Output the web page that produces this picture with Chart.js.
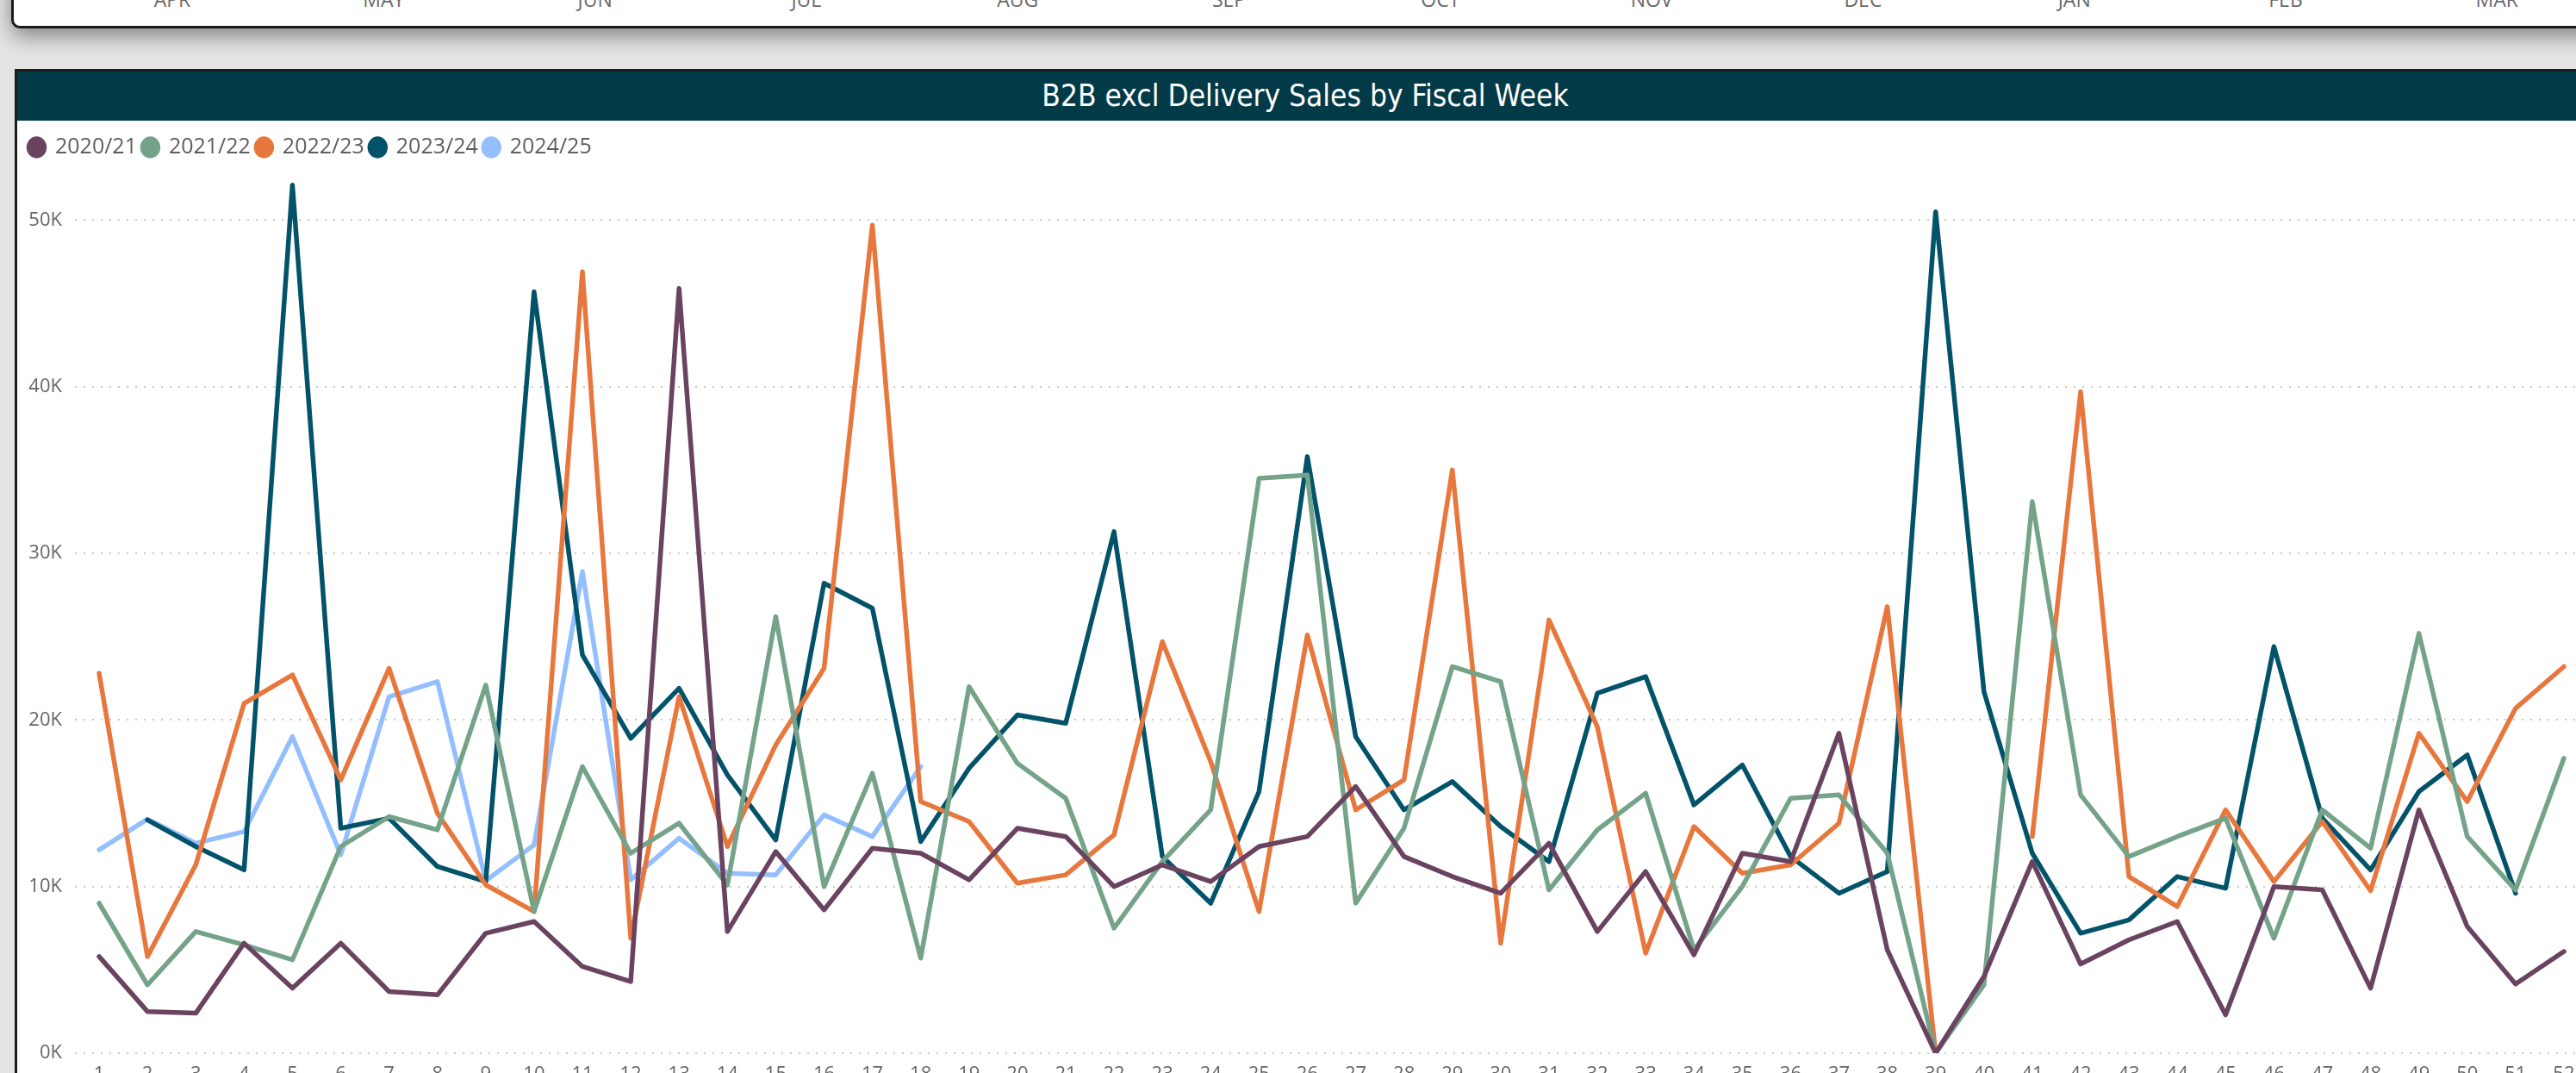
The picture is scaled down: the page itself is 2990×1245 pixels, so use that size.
<!DOCTYPE html>
<html>
<head>
<meta charset="utf-8">
<title>B2B excl Delivery Sales by Fiscal Week</title>
<script src="https://cdn.jsdelivr.net/npm/chart.js@4.4.1/dist/chart.umd.min.js"></script>
<style>
  html, body { margin: 0; padding: 0; }
  body {
    width: 2990px; height: 1245px; overflow: hidden; position: relative;
    background: #e4e4e4; font-family: "Open Sans", sans-serif;
  }
  #topCard {
    position: absolute; left: 13px; top: -30px; width: 3010px; height: 57px;
    background: #fff; border: 3px solid #1b1b1b; border-radius: 0 0 0 10px;
    box-shadow: 0 9px 24px rgba(0, 0, 0, 0.42);
  }
  #months span {
    position: absolute; top: -17px; transform: translateX(-50%);
    font-size: 23px; color: #6a6a6a;
  }
  #card {
    position: absolute; left: 17px; top: 80px; width: 2990px; height: 1200px;
    background: #fff; border-left: 3px solid #1b1b1b; border-top: 3px solid #1b1b1b;
  }
  #cardTitle {
    height: 57px; line-height: 57px; background: #033a47; color: #fff; text-align: center;
    font-family: "Liberation Sans Narrow", "DejaVu Sans Condensed", sans-serif; font-size: 35px;
  }
  #chartBox { position: absolute; left: 19px; top: 140px; width: 2985px; height: 1122px; }
</style>
</head>
<body>
<div id="topCard"></div>
<div id="months"></div>
<div id="card"><div id="cardTitle">B2B excl Delivery Sales by Fiscal Week</div></div>
<div id="chartBox"><canvas id="weekChart"></canvas></div>

<script>
// ======================
// Data
// ======================
const weeks = ["1", "2", "3", "4", "5", "6", "7", "8", "9", "10", "11", "12", "13",
  "14", "15", "16", "17", "18", "19", "20", "21", "22", "23", "24", "25", "26",
  "27", "28", "29", "30", "31", "32", "33", "34", "35", "36", "37", "38", "39",
  "40", "41", "42", "43", "44", "45", "46", "47", "48", "49", "50", "51", "52"];

const seriesNames = ["2020/21", "2021/22", "2022/23", "2023/24", "2024/25"];

const sales2020 = [5800, 2500, 2400, 6600, 3900, 6600, 3700, 3500, 7200, 7900, 5200, 4300, 45900,
  7300, 12100, 8600, 12300, 12000, 10400, 13500, 13000, 10000, 11300, 10300, 12400, 13000,
  16000, 11800, 10600, 9600, 12600, 7300, 10900, 5900, 12000, 11500, 19200, 6200, 0,
  4600, 11500, 5350, 6800, 7900, 2300, 10000, 9800, 3900, 14600, 7600, 4150, 6100];

const sales2021 = [9000, 4100, 7300, 6500, 5600, 12400, 14200, 13400, 22100, 8500, 17200, 12000, 13800,
  10100, 26200, 10000, 16800, 5700, 22000, 17400, 15300, 7500, 11500, 14600, 34500, 34700,
  9000, 13500, 23200, 22300, 9800, 13400, 15600, 6200, 10000, 15300, 15500, 12000, 0,
  4100, 33100, 15500, 11800, 13000, 14100, 6900, 14600, 12300, 25200, 13000, 9800, 17700];

const sales2022 = [22800, 5800, 11300, 21000, 22700, 16400, 23100, 14400, 10100, 8500, 46900, 6900, 21400,
  12400, 18500, 23100, 49700, 15100, 13900, 10200, 10700, 13100, 24700, 17500, 8500, 25100,
  14600, 16400, 35000, 6600, 26000, 19600, 6000, 13600, 10800, 11300, 13800, 26800, 0,
  null, 13000, 39700, 10600, 8800, 14600, 10300, 13900, 9750, 19200, 15100, 20700, 23200];

const sales2023 = [null, 14000, 12400, 11000, 52100, 13500, 14100, 11200, 10300, 45700, 23900, 18900, 21900,
  16700, 12800, 28200, 26700, 12700, 17100, 20300, 19800, 31300, 11800, 9000, 15700, 35800,
  19000, 14600, 16300, 13600, 11500, 21600, 22600, 14900, 17300, 11800, 9600, 10900, 50500,
  21700, 12000, 7200, 8000, 10600, 9900, 24400, 14100, 11000, 15700, 17900, 9600, null];

const sales2024 = [12200, 14050, 12600, 13300, 19000, 11900, 21400, 22300, 10350, 12500, 28900, 10400, 12900,
  10800, 10700, 14300, 13000, 17200];

const yTicks = [0, 10000, 20000, 30000, 40000, 50000];
const yMax = 53200;

const monthLabels = ["APR", "MAY", "JUN", "JUL", "AUG", "SEP", "OCT", "NOV", "DEC", "JAN", "FEB", "MAR"];

const seriesColors = ["#694360", "#74a38a", "#e8773e", "#02536a", "#94bfff"];

// strip of month labels from the visual above (only the bottom of it is on screen)
function montarMeses() {
  const box = document.getElementById("months");
  monthLabels.forEach((m, i) => {
    const s = document.createElement("span");
    s.textContent = m;
    s.style.left = (200 + i * 245.3) + "px";
    box.appendChild(s);
  });
}

function montarGrafico() {
  const ctx = document.getElementById("weekChart").getContext("2d");
  const allSales = [sales2020, sales2021, sales2022, sales2023, sales2024];

  Chart.defaults.font.family = "'Open Sans', sans-serif";
  Chart.defaults.color = "#666";

  new Chart(ctx, {
    type: "line",
    data: {
      labels: weeks,
      datasets: seriesNames.map((name, i) => ({
        label: name,
        data: allSales[i],
        borderColor: seriesColors[i],
        backgroundColor: seriesColors[i],
        borderWidth: 5.5,
        borderJoinStyle: "round",
        borderCapStyle: "round",
        pointRadius: 0,
        tension: 0,
        spanGaps: false
      }))
    },
    options: {
      responsive: true,
      maintainAspectRatio: false,
      devicePixelRatio: 1,
      animation: false,
      events: [],
      layout: { padding: { top: 12, left: 8, right: 0, bottom: 0 } },
      plugins: {
        tooltip: { enabled: false },
        legend: {
          position: "top",
          align: "start",
          labels: {
            usePointStyle: true,
            pointStyle: "circle",
            boxWidth: 14,
            boxHeight: 14,
            pointStyleWidth: 18,
            padding: 6.5,
            color: "#605e5c",
            font: { size: 25 }
          }
        }
      },
      scales: {
        x: {
          offset: true,
          grid: { display: false, drawTicks: false },
          border: { display: false },
          ticks: { autoSkip: false, maxRotation: 0, padding: 12, color: "#666", font: { size: 22 } },
          afterFit: s => { s.height = 40; }
        },
        y: {
          min: 0,
          max: yMax,
          grid: { color: "#c8c8c8", lineWidth: 2, drawTicks: false },
          border: { display: false, dash: [2, 8] },
          ticks: {
            padding: 15,
            color: "#666",
            font: { size: 22 },
            callback: v => (v / 1000) + "K"
          },
          afterBuildTicks: s => { s.ticks = yTicks.map(v => ({ value: v })); },
          afterFit: s => { s.width = 60; }
        }
      }
    }
  });
}

document.addEventListener("DOMContentLoaded", () => {
  montarMeses();
  montarGrafico();
});
</script>
</body>
</html>
